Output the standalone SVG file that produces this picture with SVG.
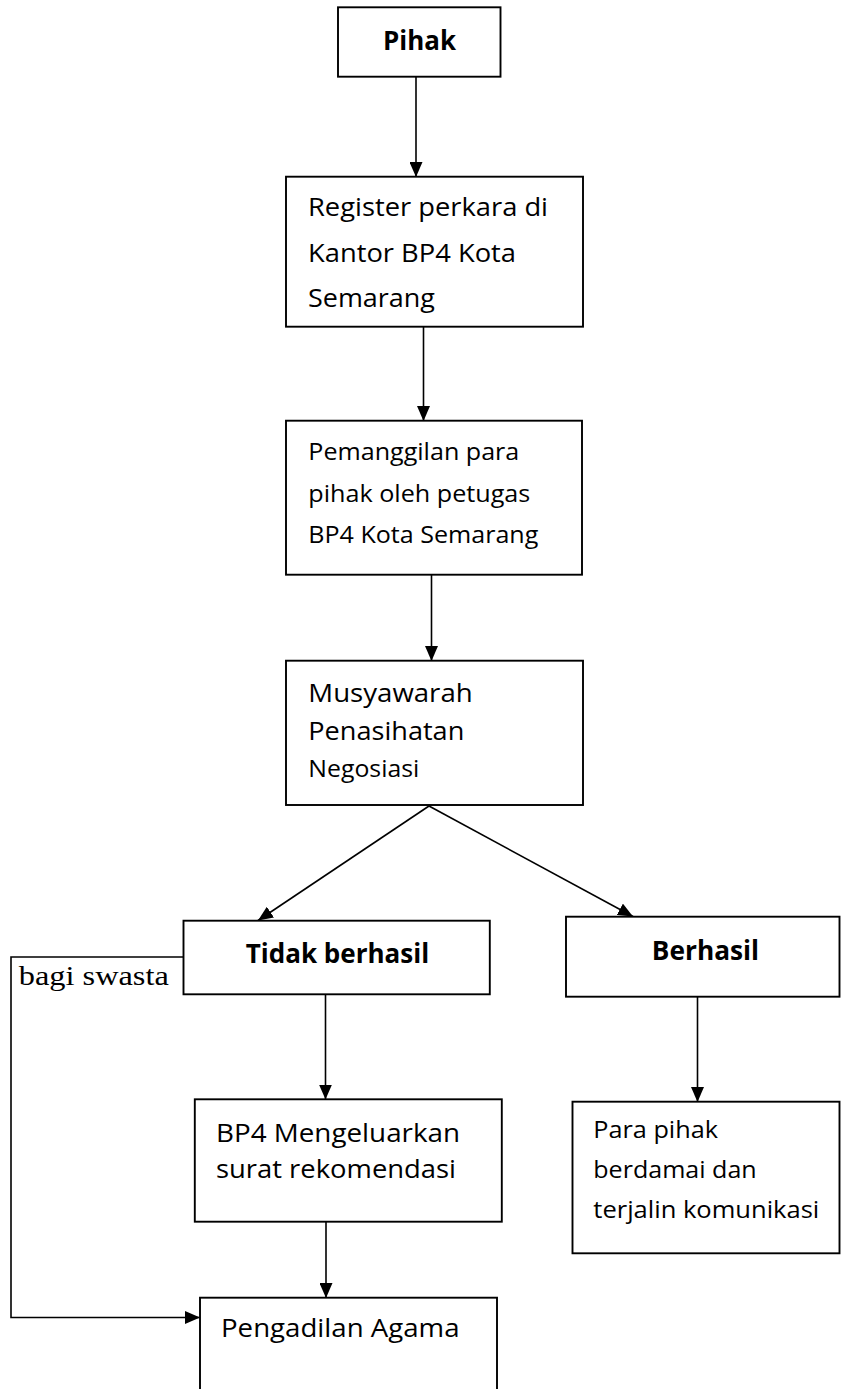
<svg xmlns="http://www.w3.org/2000/svg" width="841" height="1389" viewBox="0 0 841 1389">
<style>
.box{fill:#fff;stroke:#000;stroke-width:1.9}
.ln{fill:none;stroke:#000;stroke-width:1.6}
.t{font-family:"Open Sans","Liberation Sans",sans-serif;font-size:25.5px;fill:#000}
.s{font-size:23.5px}
.b{font-weight:bold;font-size:26px}
.serif{font-family:"Liberation Serif","Times New Roman",serif;font-size:28px;fill:#000}
</style>
<defs>
<marker id="ah" viewBox="0 0 15 13" refX="15" refY="6.5" markerWidth="15" markerHeight="13" markerUnits="userSpaceOnUse" orient="auto">
<path d="M0,0 L15,6.5 L0,13 z" fill="#000"/>
</marker>
</defs>
<g id="connectors">
<line class="ln" x1="416" y1="77" x2="416" y2="177" marker-end="url(#ah)"/>
<line class="ln" x1="423.5" y1="327" x2="423.5" y2="421" marker-end="url(#ah)"/>
<line class="ln" x1="431.5" y1="575" x2="431.5" y2="661" marker-end="url(#ah)"/>
<line class="ln" x1="429" y1="806" x2="258" y2="920.5" marker-end="url(#ah)"/>
<line class="ln" x1="429" y1="806" x2="633" y2="916.5" marker-end="url(#ah)"/>
<line class="ln" x1="325.5" y1="994.5" x2="325.5" y2="1099.5" marker-end="url(#ah)"/>
<line class="ln" x1="697.5" y1="997" x2="697.5" y2="1102" marker-end="url(#ah)"/>
<line class="ln" x1="326" y1="1222" x2="326" y2="1298" marker-end="url(#ah)"/>
<polyline class="ln" points="183.5,957 11,957 11,1317.5 200,1317.5" marker-end="url(#ah)"/>
</g>
<g id="pihak">
<rect class="box" x="338" y="7.3" width="162.5" height="69.4"/>
<text class="t b" x="383" y="50" textLength="73" lengthAdjust="spacingAndGlyphs">Pihak</text>
</g>
<g id="register">
<rect class="box" x="286" y="176.7" width="297" height="150"/>
<text class="t" x="308" y="215.5" textLength="240" lengthAdjust="spacingAndGlyphs">Register perkara di</text>
<text class="t" x="308" y="261.5" textLength="208" lengthAdjust="spacingAndGlyphs">Kantor BP4 Kota</text>
<text class="t" x="308" y="306.7" textLength="127" lengthAdjust="spacingAndGlyphs">Semarang</text>
</g>
<g id="pemanggilan">
<rect class="box" x="286" y="420.7" width="296" height="154"/>
<text class="t s" x="308.3" y="460" textLength="211" lengthAdjust="spacingAndGlyphs">Pemanggilan para</text>
<text class="t s" x="308.3" y="501.7" textLength="222" lengthAdjust="spacingAndGlyphs">pihak oleh petugas</text>
<text class="t s" x="308.3" y="543.3" textLength="230" lengthAdjust="spacingAndGlyphs">BP4 Kota Semarang</text>
</g>
<g id="musyawarah">
<rect class="box" x="286" y="660.7" width="297" height="144.3"/>
<text class="t" x="308.3" y="701.7" textLength="164.4" lengthAdjust="spacingAndGlyphs">Musyawarah</text>
<text class="t" x="308.3" y="740" textLength="156" lengthAdjust="spacingAndGlyphs">Penasihatan</text>
<text class="t s" x="308.3" y="776.7" textLength="111" lengthAdjust="spacingAndGlyphs">Negosiasi</text>
</g>
<g id="tidak-berhasil">
<rect class="box" x="183.5" y="920.7" width="306.3" height="73.6"/>
<text class="t b" x="245.7" y="963.3" textLength="183.5" lengthAdjust="spacingAndGlyphs">Tidak berhasil</text>
</g>
<g id="bagi-swasta-label">
<text class="serif" x="18.8" y="984.6" textLength="150" lengthAdjust="spacingAndGlyphs">bagi swasta</text>
</g>
<g id="berhasil">
<rect class="box" x="566" y="916.7" width="273.5" height="80"/>
<text class="t b" x="651.8" y="960" textLength="107.3" lengthAdjust="spacingAndGlyphs">Berhasil</text>
</g>
<g id="rekomendasi">
<rect class="box" x="194.8" y="1099.3" width="307" height="122.4"/>
<text class="t" x="216" y="1141.7" textLength="244" lengthAdjust="spacingAndGlyphs">BP4 Mengeluarkan</text>
<text class="t" x="216" y="1178.3" textLength="240" lengthAdjust="spacingAndGlyphs">surat rekomendasi</text>
</g>
<g id="damai">
<rect class="box" x="572.5" y="1101.7" width="267" height="151.6"/>
<text class="t s" x="593.3" y="1138.3" textLength="124.7" lengthAdjust="spacingAndGlyphs">Para pihak</text>
<text class="t s" x="593.3" y="1178.3" textLength="163.4" lengthAdjust="spacingAndGlyphs">berdamai dan</text>
<text class="t s" x="593.3" y="1218" textLength="226" lengthAdjust="spacingAndGlyphs">terjalin komunikasi</text>
</g>
<g id="pengadilan">
<rect class="box" x="200" y="1297.7" width="297" height="120"/>
<text class="t" x="221" y="1337" textLength="238.5" lengthAdjust="spacingAndGlyphs">Pengadilan Agama</text>
</g>
</svg>
